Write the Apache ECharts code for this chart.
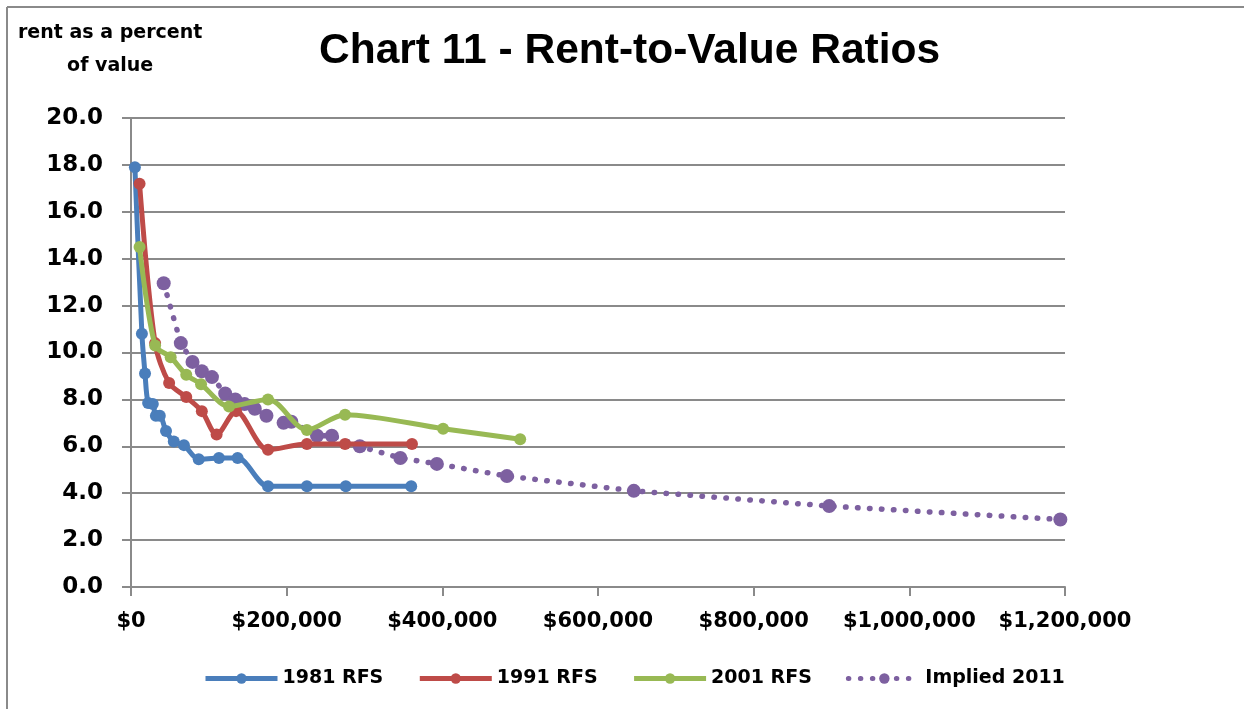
<!DOCTYPE html>
<html lang="en">

<head>
  <meta charset="UTF-8">
  <title>Chart 11 - Rent-to-Value Ratios</title>
  <style>
    html, body { margin: 0; padding: 0; background: #fff; }
    .chart { width: 1244px; height: 709px; }
  </style>
</head>

<body>
  <div class="chart"></div>
  <script src="https://cdn.jsdelivr.net/npm/echarts@6/dist/echarts.min.js"></script>
  <script>
    // house value ($) and rent as a percent of value
    let blueX = [5000, 14000, 18000, 22000, 28000, 32000, 37000, 45000, 55000, 68000, 87000, 113000, 137000, 176000, 226000, 276000, 360000];
    let blueY = [17.9, 10.8, 9.1, 7.85, 7.8, 7.3, 7.3, 6.65, 6.2, 6.05, 5.45, 5.5, 5.5, 4.3, 4.3, 4.3, 4.3];

    let redX = [11000, 31000, 49000, 71000, 91000, 110000, 135000, 176000, 226000, 275000, 361000];
    let redY = [17.2, 10.4, 8.7, 8.1, 7.5, 6.5, 7.5, 5.85, 6.1, 6.1, 6.1];

    let greenX = [11000, 31000, 51000, 71000, 90000, 126000, 176000, 226000, 275000, 401000, 500000];
    let greenY = [14.5, 10.3, 9.8, 9.05, 8.65, 7.7, 8.0, 6.7, 7.35, 6.75, 6.3];

    let purpleX = [42000, 64000, 79000, 91000, 104000, 121000, 134000, 146000, 159000, 174000, 196000, 206000, 239000, 258000, 294000, 346000, 393000, 483000, 646000, 897000, 1194000];
    let purpleY = [12.95, 10.4, 9.6, 9.2, 8.95, 8.25, 8.0, 7.8, 7.6, 7.3, 7.0, 7.05, 6.45, 6.45, 6.0, 5.5, 5.25, 4.73, 4.1, 3.45, 2.88];

    let seriesNames = ['1981 RFS', '1991 RFS', '2001 RFS', 'Implied 2011'];
    let colors = ['#4a7ebb', '#be4b48', '#98b954', '#7d60a0'];

    function zip(xs, ys) {
      return xs.map((x, i) => [x, ys[i]]);
    }

    let chart = echarts.init(document.querySelector('.chart'));
    let labelFont = 'DejaVu Sans';

    function solidSeries(i, xs, ys) {
      return {
        name: seriesNames[i],
        type: 'line',
        smooth: 0.3,
        data: zip(xs, ys),
        symbol: 'circle',
        symbolSize: 12,
        itemStyle: { color: colors[i] },
        lineStyle: { color: colors[i], width: 5 },
        z: 3 + i
      };
    }

    let option = {
      animation: false,
      color: colors,
      title: {
        text: 'Chart 11 - Rent-to-Value Ratios',
        left: 314,
        top: 25,
        textStyle: { fontFamily: 'Liberation Sans', fontWeight: 'bold', fontSize: 42.5, color: '#000' }
      },
      graphic: [
        { type: 'line', shape: { x1: 7, y1: 7, x2: 1244, y2: 7 }, style: { stroke: '#8a8a8a', lineWidth: 2 } },
        { type: 'line', shape: { x1: 7, y1: 7, x2: 7, y2: 709 }, style: { stroke: '#8a8a8a', lineWidth: 2 } },
        {
          type: 'text', left: 18, top: 17,
          style: {
            text: 'rent as a percent\nof value', textAlign: 'center', lineHeight: 33,
            font: 'bold 19px "DejaVu Sans"', fill: '#000'
          }
        }
      ],
      legend: {
        left: 198,
        top: 664,
        itemWidth: 72,
        itemHeight: 13,
        itemGap: 34,
        lineStyle: { width: 5 },
        textStyle: { fontFamily: labelFont, fontWeight: 'bold', fontSize: 19, color: '#000' },
        data: seriesNames
      },
      grid: { left: 131, right: 179, top: 118, bottom: 122 },
      xAxis: {
        type: 'value',
        min: 0,
        max: 1200000,
        interval: 200000,
        axisLine: { show: true, lineStyle: { color: '#8a8a8a', width: 2 } },
        axisTick: { show: true, length: 9, lineStyle: { color: '#8a8a8a', width: 2 } },
        splitLine: { show: false },
        axisLabel: {
          margin: 24,
          fontFamily: labelFont, fontWeight: 'bold', fontSize: 21, color: '#000',
          formatter: v => '$' + v.toLocaleString('en-US')
        }
      },
      yAxis: {
        type: 'value',
        min: 0,
        max: 20,
        interval: 2,
        axisLine: { show: true, lineStyle: { color: '#8a8a8a', width: 2 } },
        axisTick: { show: true, length: 9, lineStyle: { color: '#8a8a8a', width: 2 } },
        splitLine: { lineStyle: { color: '#8a8a8a', width: 2 } },
        axisLabel: {
          margin: 28,
          fontFamily: labelFont, fontWeight: 'bold', fontSize: 23, color: '#000',
          formatter: v => v.toFixed(1)
        }
      },
      series: [
        solidSeries(0, blueX, blueY),
        solidSeries(1, redX, redY),
        solidSeries(2, greenX, greenY),
        {
          name: seriesNames[3],
          type: 'line',
          data: zip(purpleX, purpleY),
          symbol: 'circle',
          symbolSize: 14,
          itemStyle: { color: colors[3] },
          lineStyle: { color: colors[3], width: 5.5, type: [0.5, 11.5], cap: 'round' },
          z: 2
        }
      ]
    };
    chart.setOption(option);
  </script>
</body>

</html>
